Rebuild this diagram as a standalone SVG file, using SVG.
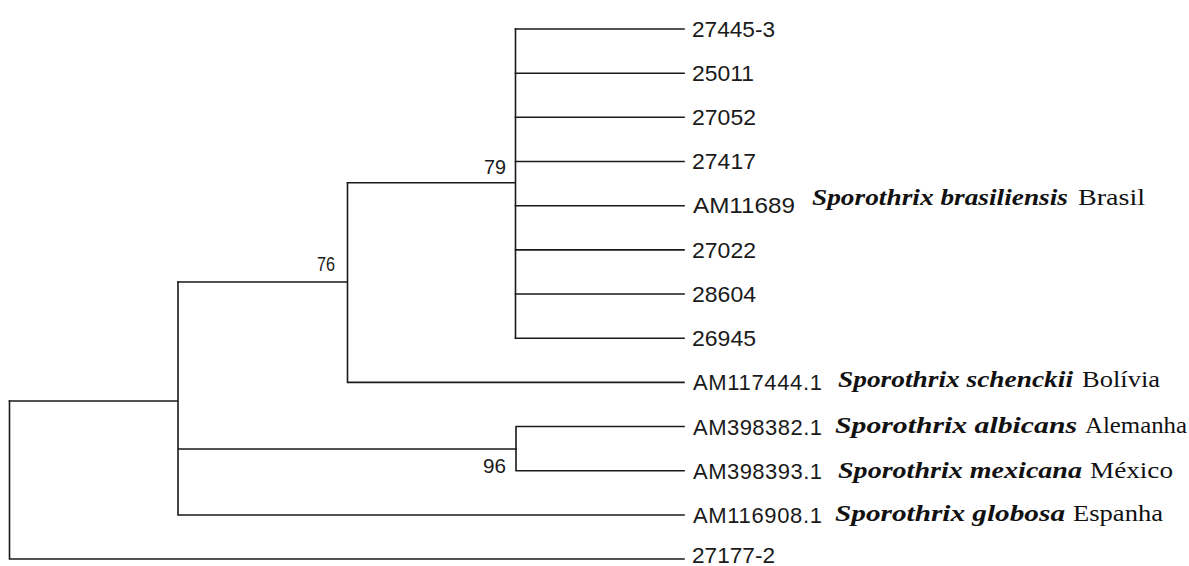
<svg xmlns="http://www.w3.org/2000/svg" width="1189" height="566" viewBox="0 0 1189 566">
<style>
.e{stroke:#1a1a1a;stroke-width:1.6;fill:none;stroke-linecap:square}
.s{font-family:"Liberation Sans",Arial,sans-serif;font-size:22px;fill:#1a1a1a}
.b{font-family:"Liberation Sans",Arial,sans-serif;font-size:21px;fill:#1a1a1a}
.i{font-family:"Liberation Serif","Times New Roman",serif;font-size:24px;font-style:italic;font-weight:bold;fill:#111}
.r{font-family:"Liberation Serif","Times New Roman",serif;font-size:24px;fill:#111}
</style>
<rect width="1189" height="566" fill="#fff"/>
<g id="connectors">
<path class="e" d="M9.5,401 V559 H684"/>
<path class="e" d="M9.5,401 H178 M178,282 V515 H684 M178,449 H516"/>
<path class="e" d="M178,282 H347.5 M347.5,182.7 V382.4 H684"/>
<path class="e" d="M347.5,182.7 H515.5 M515.5,29 V338.2"/>
<path class="e" d="M515.5,29 H684 M515.5,73.2 H684 M515.5,117.3 H684 M515.5,161.5 H684 M515.5,205.7 H684 M515.5,249.9 H684 M515.5,294 H684 M515.5,338.2 H684"/>
<path class="e" d="M516,426.5 V470.7 M516,426.5 H684 M516,470.7 H684"/>
</g>
<g id="support-labels">
<text class="b" x="484" y="174" textLength="22" lengthAdjust="spacingAndGlyphs">79</text>
<text class="b" x="317" y="271" textLength="18" lengthAdjust="spacingAndGlyphs">76</text>
<text class="b" x="483" y="473" textLength="23" lengthAdjust="spacingAndGlyphs">96</text>
</g>
<g id="leaf-27445-3"><text class="s" x="692" y="37" textLength="83" lengthAdjust="spacingAndGlyphs">27445-3</text></g>
<g id="leaf-25011"><text class="s" x="692" y="81" textLength="62" lengthAdjust="spacingAndGlyphs">25011</text></g>
<g id="leaf-27052"><text class="s" x="692" y="125" textLength="64" lengthAdjust="spacingAndGlyphs">27052</text></g>
<g id="leaf-27417"><text class="s" x="692" y="169" textLength="64" lengthAdjust="spacingAndGlyphs">27417</text></g>
<g id="leaf-AM11689">
<text class="s" x="693" y="213" textLength="102" lengthAdjust="spacingAndGlyphs">AM11689</text>
<text class="i" x="812" y="205" textLength="256" lengthAdjust="spacingAndGlyphs">Sporothrix brasiliensis</text>
<text class="r" x="1078" y="205" textLength="67" lengthAdjust="spacingAndGlyphs">Brasil</text>
</g>
<g id="leaf-27022"><text class="s" x="692" y="258" textLength="64" lengthAdjust="spacingAndGlyphs">27022</text></g>
<g id="leaf-28604"><text class="s" x="692" y="302" textLength="64" lengthAdjust="spacingAndGlyphs">28604</text></g>
<g id="leaf-26945"><text class="s" x="692" y="346" textLength="64" lengthAdjust="spacingAndGlyphs">26945</text></g>
<g id="leaf-AM117444">
<text class="s" x="693" y="390" textLength="129" lengthAdjust="spacing">AM117444.1</text>
<text class="i" x="838" y="387" textLength="235" lengthAdjust="spacingAndGlyphs">Sporothrix schenckii</text>
<text class="r" x="1082" y="387" textLength="78" lengthAdjust="spacingAndGlyphs">Bolívia</text>
</g>
<g id="leaf-AM398382">
<text class="s" x="693" y="435" textLength="129" lengthAdjust="spacing">AM398382.1</text>
<text class="i" x="835" y="433" textLength="242" lengthAdjust="spacingAndGlyphs">Sporothrix albicans</text>
<text class="r" x="1085" y="433" textLength="102" lengthAdjust="spacingAndGlyphs">Alemanha</text>
</g>
<g id="leaf-AM398393">
<text class="s" x="693" y="479" textLength="129" lengthAdjust="spacing">AM398393.1</text>
<text class="i" x="838" y="478" textLength="244" lengthAdjust="spacingAndGlyphs">Sporothrix mexicana</text>
<text class="r" x="1090" y="478" textLength="83" lengthAdjust="spacingAndGlyphs">México</text>
</g>
<g id="leaf-AM116908">
<text class="s" x="693" y="523" textLength="129" lengthAdjust="spacing">AM116908.1</text>
<text class="i" x="835" y="521" textLength="230" lengthAdjust="spacingAndGlyphs">Sporothrix globosa</text>
<text class="r" x="1073" y="521" textLength="90" lengthAdjust="spacingAndGlyphs">Espanha</text>
</g>
<g id="leaf-27177-2"><text class="s" x="692" y="563" textLength="83" lengthAdjust="spacingAndGlyphs">27177-2</text></g>
</svg>
